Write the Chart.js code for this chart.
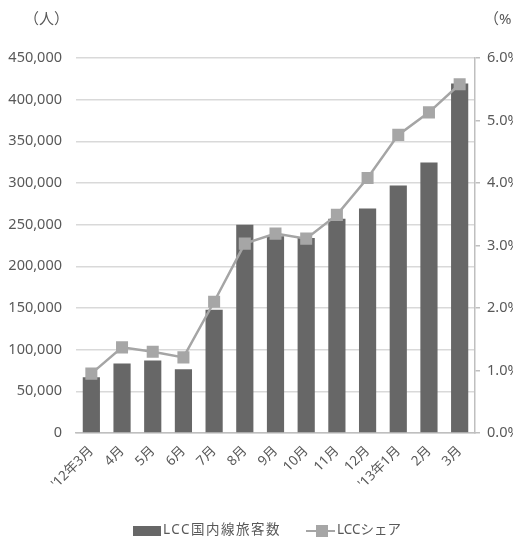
<!DOCTYPE html>
<html>
<head>
<meta charset="utf-8">
<script src="https://cdn.jsdelivr.net/npm/chart.js@4.4.1/dist/chart.umd.min.js"></script>
<style>
  html, body { margin: 0; padding: 0; background: #fff; overflow: hidden; }
  #wrap { position: relative; width: 525px; height: 541px; }
</style>
</head>
<body>
<div id="wrap"><canvas id="chart" width="525" height="541"></canvas></div>
<script>
const months = ["'12年3月", '4月', '5月', '6月', '7月', '8月', '9月', '10月', '11月', '12月', "'13年1月", '2月', '3月'];
const passengers = [67000, 83500, 87000, 76500, 148000, 250000, 236000, 234000, 257000, 269500, 297000, 324500, 419500];
const share = [0.95, 1.37, 1.30, 1.21, 2.10, 3.03, 3.19, 3.11, 3.49, 4.08, 4.77, 5.13, 5.58];
const paxTicks = [0, 50000, 100000, 150000, 200000, 250000, 300000, 350000, 400000, 450000];
const shareTicks = [0, 1, 2, 3, 4, 5, 6];

const FONT = '"Noto Sans", "Noto Sans CJK JP", sans-serif';
const TEXT = '#595959';

// unit labels + custom legend
const extras = {
  id: 'extras',
  afterDraw(chart) {
    const ctx = chart.ctx;
    ctx.save();
    ctx.fillStyle = TEXT;
    ctx.font = '15px ' + FONT;
    ctx.textBaseline = 'middle';
    ctx.textAlign = 'left';
    ctx.fillText('（人）', 24, 20);
    ctx.fillText('（%', 484, 20);

    const bar = chart.data.datasets.find(d => d.type === 'bar');
    const line = chart.data.datasets.find(d => d.type === 'line');
    const y = 530;
    // bar swatch
    ctx.fillStyle = bar.backgroundColor;
    ctx.fillRect(133, y - 4, 28, 10);
    ctx.fillStyle = TEXT;
    ctx.font = '13.5px ' + FONT;
    ctx.letterSpacing = '1.5px';
    ctx.fillText(bar.label, 163, y);
    // line swatch
    ctx.strokeStyle = line.borderColor;
    ctx.lineWidth = 2;
    ctx.beginPath();
    ctx.moveTo(306, y + 1);
    ctx.lineTo(335, y + 1);
    ctx.stroke();
    ctx.fillStyle = line.pointBackgroundColor;
    ctx.fillRect(316, y - 5, 12, 12);
    ctx.fillStyle = TEXT;
    ctx.letterSpacing = '0px';
    ctx.fillText(line.label, 337, y);
    ctx.restore();
  }
};

new Chart(document.getElementById('chart'), {
  data: {
    labels: months,
    datasets: [
      {
        type: 'line',
        label: 'LCCシェア',
        data: share,
        yAxisID: 'y1',
        borderColor: '#a5a5a5',
        borderWidth: 2.5,
        pointStyle: 'rect',
        pointRadius: 8.5,
        pointBackgroundColor: '#a6a6a6',
        pointBorderColor: '#a6a6a6',
        pointBorderWidth: 0,
        tension: 0,
        order: 0
      },
      {
        type: 'bar',
        label: 'LCC国内線旅客数',
        data: passengers,
        yAxisID: 'y',
        backgroundColor: '#676767',
        categoryPercentage: 1,
        barPercentage: 0.56,
        order: 1
      }
    ]
  },
  options: {
    responsive: false,
    animation: false,
    layout: { padding: { top: 58, left: 0, right: 0, bottom: 0 } },
    plugins: { legend: { display: false }, tooltip: { enabled: false } },
    scales: {
      x: {
        grid: { display: false, drawTicks: false },
        border: { color: '#bfbfbf', width: 1.5 },
        ticks: {
          color: TEXT, font: { family: FONT, size: 13.5 },
          maxRotation: 45, minRotation: 45, padding: 10, autoSkip: false
        },
        afterFit(s) { s.height = 541 - 433; }
      },
      y: {
        position: 'left',
        min: 0, max: 450000,
        afterBuildTicks(s) { s.ticks = paxTicks.map(v => ({ value: v })); },
        grid: { color: '#d9d9d9', lineWidth: 1.5, drawTicks: false },
        border: { display: false },
        ticks: {
          color: TEXT, font: { family: FONT, size: 14.5 }, padding: 14,
          callback: v => v.toLocaleString('en-US')
        },
        afterFit(s) { s.width = 76; }
      },
      y1: {
        position: 'right',
        min: 0, max: 6,
        afterBuildTicks(s) { s.ticks = shareTicks.map(v => ({ value: v })); },
        grid: { drawOnChartArea: false, color: '#bfbfbf', tickLength: 5, lineWidth: 1.5 },
        border: { color: '#bfbfbf', width: 1.5 },
        ticks: {
          color: TEXT, font: { family: FONT, size: 14.5 }, padding: 7,
          callback: v => v.toFixed(1) + '%'
        },
        afterFit(s) { s.width = 50; }
      }
    }
  },
  plugins: [extras]
});
</script>
</body>
</html>
